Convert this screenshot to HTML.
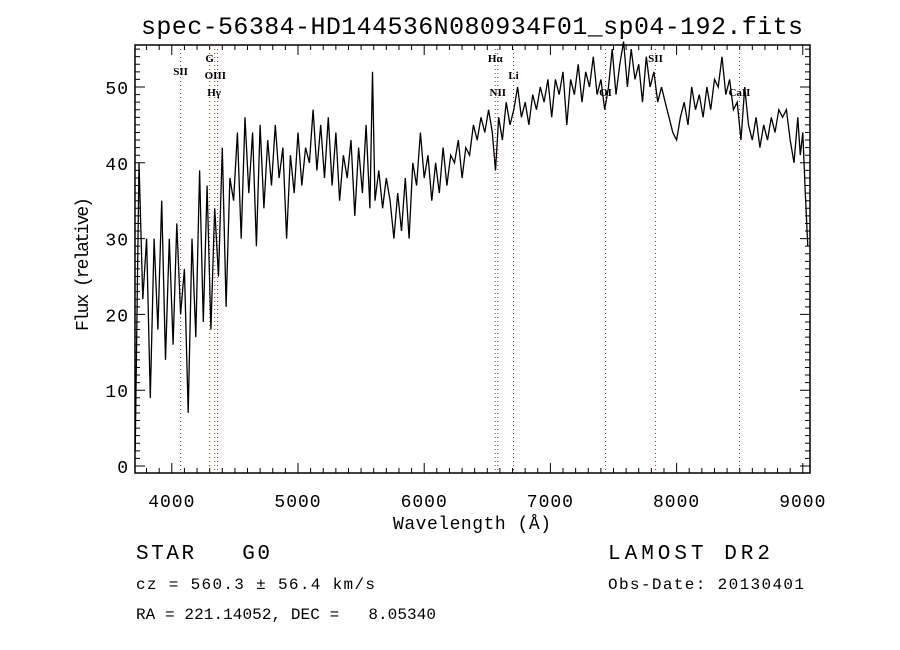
<!DOCTYPE html>
<html><head><meta charset="utf-8"><style>
body{margin:0;background:#fff;}
svg{display:block;}
text{font-family:"Liberation Mono",monospace;fill:#000;}
.tk{font-size:18px;letter-spacing:1px;}
.ln{font-family:"Liberation Serif",serif;font-size:11px;font-weight:bold;}
</style></head><body>
<svg id="chart" width="900" height="650">
<text x="472" y="34" text-anchor="middle" font-size="25" textLength="662">spec-56384-HD144536N080934F01_sp04-192.fits</text>
<g id="axes"></g>
<g id="lines"></g>
<polyline id="spec" fill="none" stroke="#000" stroke-width="1.3"/>
<text x="472" y="529" text-anchor="middle" font-size="18" textLength="158">Wavelength (Å)</text>
<text transform="translate(88,264) rotate(-90)" text-anchor="middle" font-size="18" textLength="134">Flux (relative)</text>
<text x="136" y="559" font-size="21" textLength="134" xml:space="preserve">STAR   G0</text>
<text x="608" y="559" font-size="21" textLength="162">LAMOST DR2</text>
<text x="136" y="589" font-size="16" textLength="239">cz = 560.3 ± 56.4 km/s</text>
<text x="608" y="589" font-size="16" textLength="196">Obs-Date: 20130401</text>
<text x="136" y="619" font-size="16" textLength="300" xml:space="preserve">RA = 221.14052, DEC =   8.05340</text>
</svg>
<script>
const wavelengths=[3710,3740,3770,3800,3830,3860,3890,3920,3950,3980,4010,4040,4070,4100,4130,4160,4190,4220,4250,4280,4310,4340,4370,4400,4430,4460,4490,4520,4550,4580,4610,4640,4670,4700,4730,4760,4790,4820,4850,4880,4910,4940,4970,5000,5030,5060,5090,5120,5150,5180,5210,5240,5270,5300,5330,5360,5390,5420,5450,5480,5510,5540,5570,5590,5610,5640,5670,5700,5730,5760,5790,5820,5850,5880,5910,5940,5970,6000,6030,6060,6090,6120,6150,6180,6210,6240,6270,6300,6330,6360,6390,6420,6450,6480,6510,6540,6565,6590,6620,6650,6680,6710,6740,6770,6800,6830,6860,6890,6920,6950,6980,7010,7040,7070,7100,7130,7160,7190,7220,7250,7280,7310,7340,7370,7400,7430,7460,7490,7520,7550,7580,7610,7640,7670,7700,7730,7760,7790,7820,7850,7880,7910,7940,7970,8000,8030,8060,8090,8120,8150,8180,8210,8240,8270,8300,8330,8360,8390,8420,8450,8480,8510,8540,8570,8600,8630,8660,8690,8720,8750,8780,8810,8840,8870,8900,8930,8960,8980,9000,9020,9040];
const flux=[2,40,22,30,9,30,18,35,14,30,16,32,20,26,7,30,17,39,19,37,18,34,25,42,21,38,35,44,30,46,36,44,29,45,34,43,37,45,38,42,30,41,36,44,37,42,40,47,39,45,38,46,37,44,35,41,38,43,33,42,36,45,34,52,35,39,34,38,35,30,36,31,38,30,40,37,44,38,41,35,40,36,42,37,41,40,43,38,42,41,45,43,46,44,47,44,39,46,43,48,45,47,50,46,48,45,49,47,50,48,51,46,51,49,52,45,51,49,53,48,52,50,54,49,51,47,50,55,49,53,56,50,55,51,53,48,54,50,52,48,50,48,46,44,43,46,48,45,50,47,49,46,50,47,51,50,54,49,51,47,48,43,50,45,43,46,42,45,43,46,44,47,46,47,43,40,46,41,44,36,29];
const xTicks=[4000,5000,6000,7000,8000,9000];
const yTicks=[0,10,20,30,40,50];
const lineWaves=[4070,4300,4340,4363,6563,6583,6708,7437,7833,8498];
const lineLabels=[["SII",4070,75],["G",4300,62],["OIII",4345,79],["Hγ",4335,96],["Hα",6563,62],["Li",6708,79],["NII",6583,96],["OI",7437,96],["SII",7833,62],["CaII",8498,96]];
const L=135,R=810,T=45,B=473;
const X=w=>298+(w-5000)*0.1262;
const Y=f=>466-f*7.58;
const NS='http://www.w3.org/2000/svg';
function mk(tag,attrs,parent){const e=document.createElementNS(NS,tag);for(const k in attrs)e.setAttribute(k,attrs[k]);parent.appendChild(e);return e;}
const ax=document.getElementById('axes');
const fr=mk('rect',{x:L,y:T,width:R-L,height:B-T,fill:'none',stroke:'#000','stroke-width':1.5},ax);


let d='';
for(let w=3800;w<=9000;w+=100){const x=X(w);const len=(w%1000===0)?10:5;d+=`M${x},${B}v${-len}M${x},${T}v${len}`;}
for(let f=0;f<=55;f++){const y=Y(f);const len=(f%10===0)?10:5;d+=`M${L},${y}h${len}M${R},${y}h${-len}`;}
const tp=mk('path',{d:d,stroke:'#000','stroke-width':1,fill:'none'},ax);


xTicks.forEach(w=>{const t=mk('text',{x:X(w),y:B+34,'text-anchor':'middle',class:'tk'},ax);t.textContent=w;

});
yTicks.forEach(f=>{const t=mk('text',{x:L-6,y:Y(f)+7,'text-anchor':'end',class:'tk'},ax);t.textContent=f;

});
const lg=document.getElementById('lines');
lineWaves.forEach(w=>{const l=mk('line',{x1:X(w),x2:X(w),y1:T,y2:B,stroke:'#8b3a3a','stroke-width':1,'stroke-dasharray':'1,3'},lg);

});
lineLabels.forEach(([s,w,y])=>{const t=mk('text',{x:X(w),y:y,'text-anchor':'middle',class:'ln'},lg);t.textContent=s;

});
document.getElementById('spec').setAttribute('points',wavelengths.map((w,i)=>X(w).toFixed(1)+','+Y(flux[i]).toFixed(1)).join(' '));
</script>
</body></html>
